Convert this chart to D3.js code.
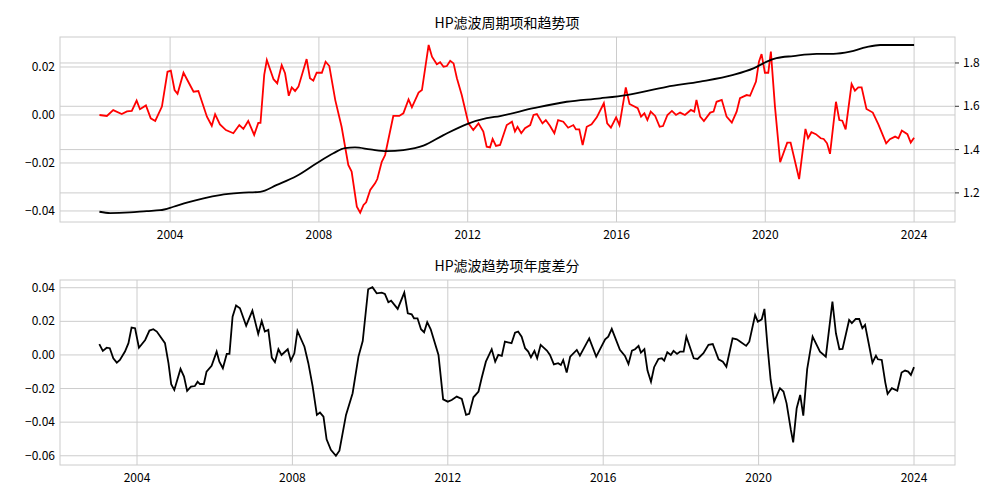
<!DOCTYPE html>
<html><head><meta charset="utf-8">
<script src="https://cdn.jsdelivr.net/npm/d3@7"></script>
<style>body{margin:0;background:#fff}text{font-family:"Noto Sans CJK SC","DejaVu Sans",sans-serif}</style>
</head><body><svg></svg>
<script>
var width = 1000, height = 500;

// HP cycle (red), decimal year / value
var cycleT = [2002.1,2002.3,2002.47,2002.7,2002.84,2002.97,2003.1,2003.19,2003.35,2003.48,2003.6,2003.78,2003.93,2004.02,2004.12,2004.2,2004.36,2004.63,2004.76,2004.99,2005.12,2005.21,2005.34,2005.5,2005.7,2005.86,2005.97,2006.1,2006.26,2006.37,2006.43,2006.53,2006.6,2006.78,2006.88,2007.0,2007.09,2007.19,2007.27,2007.36,2007.45,2007.67,2007.76,2007.85,2007.94,2008.08,2008.18,2008.28,2008.44,2008.61,2008.79,2008.88,2009.02,2009.11,2009.2,2009.27,2009.38,2009.51,2009.57,2009.69,2009.78,2010.0,2010.16,2010.27,2010.41,2010.5,2010.68,2010.77,2010.95,2011.04,2011.17,2011.26,2011.35,2011.44,2011.53,2011.62,2011.71,2011.84,2012.02,2012.15,2012.29,2012.42,2012.51,2012.6,2012.67,2012.76,2012.87,2013.05,2013.19,2013.27,2013.34,2013.44,2013.54,2013.68,2013.77,2013.86,2014.01,2014.1,2014.21,2014.33,2014.43,2014.57,2014.7,2014.84,2014.91,2015.0,2015.09,2015.2,2015.33,2015.47,2015.66,2015.75,2015.85,2015.99,2016.08,2016.25,2016.35,2016.57,2016.66,2016.75,2016.83,2016.92,2017.04,2017.16,2017.25,2017.37,2017.49,2017.6,2017.71,2017.84,2018.0,2018.09,2018.15,2018.25,2018.35,2018.52,2018.61,2018.69,2018.83,2018.96,2019.1,2019.23,2019.32,2019.5,2019.59,2019.75,2019.83,2019.9,2019.99,2020.08,2020.15,2020.26,2020.4,2020.59,2020.68,2020.77,2020.91,2021.08,2021.15,2021.24,2021.36,2021.49,2021.57,2021.66,2021.74,2021.9,2021.99,2022.07,2022.16,2022.32,2022.41,2022.5,2022.59,2022.72,2022.89,2023.04,2023.25,2023.35,2023.49,2023.58,2023.67,2023.82,2023.91,2024.0];
var cycleV = [0,-0.0004,0.002,0.0004,0.0015,0.0017,0.006,0.0024,0.004,-0.0014,-0.0025,0.0035,0.018,0.0185,0.0104,0.0088,0.0176,0.0097,0.01,-0.0007,-0.0045,0.0003,-0.0039,-0.0063,-0.0076,-0.0042,-0.0058,-0.0025,-0.0083,-0.0033,-0.0033,0.0167,0.0229,0.0149,0.0132,0.0208,0.0174,0.008,0.0115,0.01,0.0118,0.0233,0.0153,0.0143,0.0176,0.0176,0.0222,0.0204,0.0062,-0.0049,-0.0208,-0.0236,-0.0382,-0.0407,-0.0375,-0.0364,-0.0312,-0.0285,-0.0267,-0.0195,-0.0167,-0.0004,-0.0004,0.0007,0.0065,0.0032,0.0093,0.0104,0.0292,0.0243,0.0211,0.022,0.0201,0.0204,0.0226,0.0215,0.0153,0.0083,-0.0035,-0.0063,-0.0035,-0.0069,-0.0132,-0.0135,-0.01,-0.0129,-0.0125,-0.0042,-0.0028,-0.0069,-0.0049,-0.0076,-0.0055,-0.0042,0,0.0004,-0.0035,-0.0021,-0.0045,-0.0076,-0.0021,-0.0028,-0.0053,-0.0042,-0.006,-0.006,-0.0125,-0.0049,-0.0039,-0.001,0.0049,-0.0035,-0.0053,-0.001,-0.0042,0.0115,0.0046,0.0028,-0.0007,0.0007,-0.0021,0.0014,-0.0004,-0.0049,-0.0046,0,0.0017,0,0.001,0,0.0021,0.0014,0.0063,-0.0007,-0.0025,0.001,0.0014,0.0055,0.0063,-0.0007,-0.0032,0.0014,0.007,0.0083,0.008,0.0139,0.0222,0.0254,0.0176,0.0176,0.0264,0.0035,-0.0197,-0.0115,-0.0115,-0.0174,-0.0267,-0.0058,-0.0097,-0.0072,-0.008,-0.0097,-0.01,-0.0118,-0.0162,0.0055,-0.0021,-0.0024,-0.006,0.0129,0.0101,0.0115,0.0115,0.0025,0.001,-0.0039,-0.0118,-0.0101,-0.009,-0.0097,-0.0065,-0.008,-0.0115,-0.0095];

// HP trend (black, right axis)
var trendT = [2002.1,2002.39,2002.92,2003.37,2003.73,2004.09,2004.45,2004.9,2005.34,2005.88,2006.42,2006.87,2007.4,2007.94,2008.39,2008.7,2008.97,2009.38,2009.82,2010.27,2010.81,2011.35,2011.98,2012.51,2012.87,2013.77,2014.66,2015.56,2016.27,2017.35,2018.25,2019.14,2019.68,2020.04,2020.3,2020.75,2021.38,2021.83,2022.28,2022.72,2023.09,2024.0];
var trendV = [1.113,1.107,1.11,1.116,1.12,1.136,1.155,1.175,1.19,1.2,1.205,1.237,1.278,1.337,1.383,1.407,1.41,1.401,1.393,1.398,1.418,1.467,1.518,1.545,1.555,1.591,1.621,1.637,1.652,1.69,1.714,1.745,1.775,1.806,1.822,1.832,1.842,1.842,1.852,1.873,1.883,1.883];

// yearly difference of trend
var diffT = [2003.03,2003.12,2003.22,2003.3,2003.39,2003.48,2003.56,2003.69,2003.78,2003.86,2003.95,2004.05,2004.21,2004.32,2004.42,2004.51,2004.72,2004.81,2004.88,2004.96,2005.12,2005.21,2005.29,2005.39,2005.49,2005.56,2005.62,2005.72,2005.79,2005.92,2006.05,2006.12,2006.21,2006.31,2006.38,2006.46,2006.55,2006.65,2006.81,2006.97,2007.12,2007.21,2007.29,2007.38,2007.47,2007.55,2007.64,2007.72,2007.88,2007.96,2008.05,2008.13,2008.31,2008.41,2008.52,2008.63,2008.71,2008.8,2008.88,2008.99,2009.12,2009.21,2009.38,2009.55,2009.7,2009.81,2009.95,2010.06,2010.17,2010.3,2010.38,2010.47,2010.54,2010.71,2010.88,2010.97,2011.07,2011.13,2011.22,2011.31,2011.39,2011.47,2011.56,2011.76,2011.88,2012.0,2012.1,2012.23,2012.36,2012.47,2012.55,2012.66,2012.79,2012.87,2012.98,2013.13,2013.22,2013.3,2013.39,2013.47,2013.64,2013.73,2013.81,2013.9,2013.99,2014.07,2014.14,2014.23,2014.3,2014.39,2014.55,2014.63,2014.73,2014.84,2014.91,2014.97,2015.06,2015.15,2015.32,2015.4,2015.64,2015.82,2016.05,2016.13,2016.22,2016.43,2016.56,2016.65,2016.74,2016.82,2016.91,2016.97,2017.06,2017.14,2017.23,2017.31,2017.42,2017.51,2017.57,2017.65,2017.74,2017.81,2017.9,2017.98,2018.07,2018.14,2018.33,2018.43,2018.58,2018.71,2018.82,2018.97,2019.08,2019.17,2019.33,2019.44,2019.53,2019.68,2019.76,2019.91,2019.98,2020.08,2020.15,2020.23,2020.31,2020.4,2020.55,2020.64,2020.72,2020.83,2020.89,2020.98,2021.07,2021.15,2021.25,2021.39,2021.58,2021.73,2021.9,2021.99,2022.08,2022.16,2022.33,2022.4,2022.5,2022.59,2022.67,2022.74,2022.93,2023.02,2023.07,2023.17,2023.26,2023.32,2023.43,2023.57,2023.68,2023.77,2023.85,2023.92,2024.0];
var diffV = [0.0064,0.0024,0.0043,0.004,-0.002,-0.0046,-0.003,0.002,0.007,0.0163,0.0159,0.0043,0.0089,0.0145,0.0153,0.0139,0.007,-0.0049,-0.0174,-0.0208,-0.0083,-0.0129,-0.0214,-0.0189,-0.0185,-0.0159,-0.0173,-0.0173,-0.0099,-0.0065,0.002,-0.004,-0.0079,0.0006,0.0006,0.0228,0.0294,0.0278,0.0174,0.0264,0.0125,0.0202,0.0139,0.0149,-0.0016,-0.0043,0.0034,0,0.0034,-0.0034,0.001,0.0143,0.0049,-0.0049,-0.0185,-0.0357,-0.0343,-0.0367,-0.0502,-0.0565,-0.06,-0.057,-0.0357,-0.0228,-0.001,0.0083,0.0391,0.0403,0.0367,0.0371,0.0363,0.0314,0.0323,0.0274,0.0371,0.0248,0.0242,0.0218,0.0218,0.0153,0.0135,0.0195,0.0153,0,-0.0264,-0.0278,-0.0268,-0.0248,-0.0262,-0.0357,-0.0351,-0.0252,-0.0218,-0.0139,-0.004,0.0034,-0.004,0,-0.0006,0.0079,0.007,0.0133,0.0139,0.0109,0.004,0.002,-0.0014,0.0024,-0.002,0.006,0.0026,0,-0.0056,-0.0049,-0.006,-0.003,-0.0105,-0.001,0.003,-0.0004,0.0099,-0.001,0.0093,0.0109,0.0155,0.003,-0.0006,-0.0054,0.0026,0.0034,0.0054,0.0014,0.0034,-0.0093,-0.0159,-0.0073,-0.0024,-0.002,-0.0034,0.0016,0,0.0024,0.0006,0.002,0.002,0.0109,-0.002,-0.0024,0.001,0.006,0.0065,-0.0026,-0.004,-0.007,0.0099,0.0093,0.0079,0.0054,0.0079,0.0238,0.0198,0.0212,0.0274,0.0049,-0.0149,-0.0278,-0.0198,-0.0218,-0.0288,-0.0446,-0.052,-0.0317,-0.0238,-0.0361,-0.0085,0.0109,0.002,-0.001,0.0317,0.0129,0.0034,0.0036,0.0208,0.0189,0.0214,0.0214,0.0159,0.0179,-0.0046,-0.0004,-0.0026,-0.003,-0.0163,-0.0232,-0.0198,-0.0213,-0.0105,-0.0093,-0.0099,-0.0119,-0.0073];

var yearTicks = [2004, 2008, 2012, 2016, 2020, 2024];
var topLeftTicks = [-0.04, -0.02, 0.00, 0.02];
var topRightTicks = [1.2, 1.4, 1.6, 1.8];
var bottomTicks = [-0.06, -0.04, -0.02, 0.00, 0.02, 0.04];

var svg = d3.select('svg').attr('width', width).attr('height', height);
var gridC = '#cccccc', fs = 12;

function zip(t, v) { return t.map(function (d, i) { return [d, v[i]]; }); }

function panel(top, bottom, xDom, yDom, title) {
    var x = d3.scaleLinear().domain(xDom).range([60, 955]);
    var y = d3.scaleLinear().domain(yDom).range([bottom, top]);
    var g = svg.append('g');
    yearTicks.forEach(function (t) {
        g.append('line').attr('x1', x(t)).attr('x2', x(t)).attr('y1', top).attr('y2', bottom)
            .attr('stroke', gridC);
        g.append('text').attr('x', x(t)).attr('y', bottom + 17).attr('text-anchor', 'middle')
            .attr('font-size', fs).text(t);
    });
    g.append('rect').attr('x', 60).attr('y', top).attr('width', 895).attr('height', bottom - top)
        .attr('fill', 'none').attr('stroke', gridC);
    svg.append('text').attr('x', 507).attr('y', top - 9).attr('text-anchor', 'middle')
        .attr('font-size', 14).text(title);
    return { x: x, y: y, g: g };
}

function yTicks(p, y, ticks, side, fmt) {
    ticks.forEach(function (t) {
        p.g.append('line').attr('x1', 60).attr('x2', 955).attr('y1', y(t)).attr('y2', y(t)).attr('stroke', gridC);
        if (side === 'left') {
            p.g.append('text').attr('x', 55).attr('y', y(t) + 4).attr('text-anchor', 'end')
                .attr('font-size', fs).text(fmt(t));
        } else {
            p.g.append('line').attr('x1', 955).attr('x2', 959).attr('y1', y(t)).attr('y2', y(t)).attr('stroke', '#333');
            p.g.append('text').attr('x', 963).attr('y', y(t) + 4).attr('font-size', fs).text(fmt(t));
        }
    });
}

// top panel
var p1 = panel(37, 222, [2001.04, 2025.1], [-0.0446, 0.0325], 'HP滤波周期项和趋势项');
var yR = d3.scaleLinear().domain([1.0656, 1.92]).range([222, 37]);
var fmtNeg = function (d) { return d3.format('.2f')(d).replace('-', '\u2212'); };
yTicks(p1, p1.y, topLeftTicks, 'left', fmtNeg);
yTicks(p1, yR, topRightTicks, 'right', d3.format('.1f'));

var line1 = d3.line().x(function (d) { return p1.x(d[0]); }).y(function (d) { return p1.y(d[1]); });
svg.append('path').datum(zip(cycleT, cycleV)).attr('d', line1)
    .attr('fill', 'none').attr('stroke', 'red').attr('stroke-width', 1.8);
var lineT = d3.line().curve(d3.curveMonotoneX).x(function (d) { return p1.x(d[0]); }).y(function (d) { return yR(d[1]); });
svg.append('path').datum(zip(trendT, trendV)).attr('d', lineT)
    .attr('fill', 'none').attr('stroke', 'black').attr('stroke-width', 1.8);

// bottom panel
var p2 = panel(280, 465, [2002.018, 2025.055], [-0.0655, 0.0446], 'HP滤波趋势项年度差分');
yTicks(p2, p2.y, bottomTicks, 'left', fmtNeg);
var line2 = d3.line().x(function (d) { return p2.x(d[0]); }).y(function (d) { return p2.y(d[1]); });
svg.append('path').datum(zip(diffT, diffV)).attr('d', line2)
    .attr('fill', 'none').attr('stroke', 'black').attr('stroke-width', 1.8);
</script>
</body></html>
